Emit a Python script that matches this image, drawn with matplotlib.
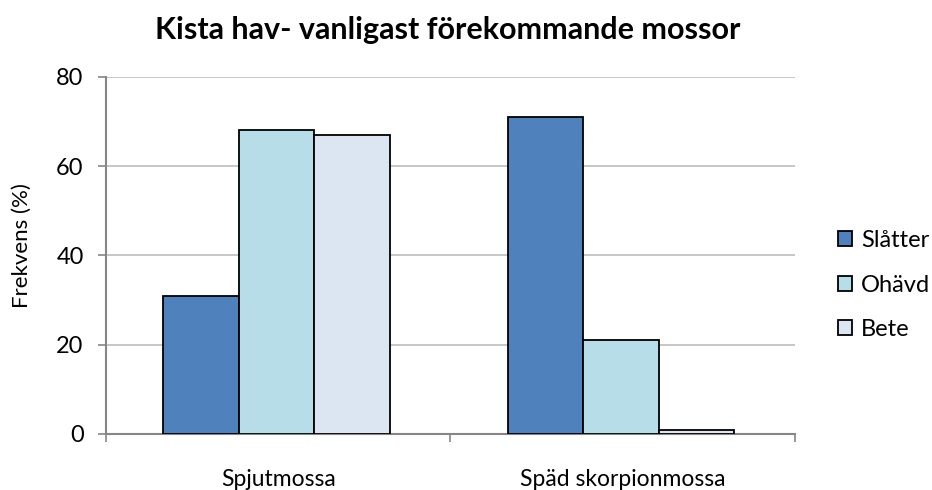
import matplotlib
matplotlib.use('Agg')
import matplotlib.pyplot as plt
import numpy as np

categories = ['Spjutmossa', 'Späd skorpionmossa']
series_names = ['Slåtter', 'Ohävd', 'Bete']
slatter = [31, 71]
ohavd = [68, 21]
bete = [67, 1]
colors = ['#4F81BD', '#B7DEE8', '#DCE6F2']

plt.rcParams['font.family'] = ['Lato', 'DejaVu Sans']

fig = plt.figure(figsize=(9.32, 4.9), dpi=100)
ax = fig.add_axes([0.1137, 0.1143, 0.853 - 0.1137, 0.843 - 0.1143])

x = np.arange(len(categories))
w = 0.219
for i, (vals, name) in enumerate(zip([slatter, ohavd, bete], series_names)):
    ax.bar(x + (i - 1) * w - 0.005, vals, w, color=colors[i], edgecolor='black',
           linewidth=1.3, label=name, zorder=3)

ax.set_xlim(-0.5, 1.5)
ax.set_ylim(0, 80)
ax.set_yticks([0, 20, 40, 60, 80])
ax.yaxis.grid(True, color='#BEBEBE', linewidth=1.2, zorder=0)
for s in ['top', 'right']:
    ax.spines[s].set_visible(False)
for s in ['left', 'bottom']:
    ax.spines[s].set_color('#868686')
    ax.spines[s].set_linewidth(1.5)

ax.set_xticks([-0.5, 0.5, 1.5])
ax.set_xticklabels([])
ax.set_xticks(x, minor=True)
ax.set_xticklabels(categories, minor=True, fontsize=16.5)
ax.tick_params(axis='x', which='minor', length=0, pad=25)
ax.tick_params(axis='x', which='major', length=6, color='#868686', width=1.2)
ax.tick_params(axis='y', length=6, color='#868686', width=1.2, labelsize=17, pad=10)

ax.set_ylabel('Frekvens (%)', fontsize=16)
ax.yaxis.set_label_coords(-0.107, 0.527)
fig.text(0.480, 0.939, 'Kista hav- vanligast förekommande mossor', fontsize=22,
         fontweight='bold', ha='center', va='center')

ax.legend(loc='center left', bbox_to_anchor=(1.062, 0.417), frameon=False,
          fontsize=17, handlelength=0.6, handleheight=0.6, handletextpad=0.4,
          labelspacing=1.0, borderpad=0, borderaxespad=0)

fig.savefig('out.png', dpi=100)
